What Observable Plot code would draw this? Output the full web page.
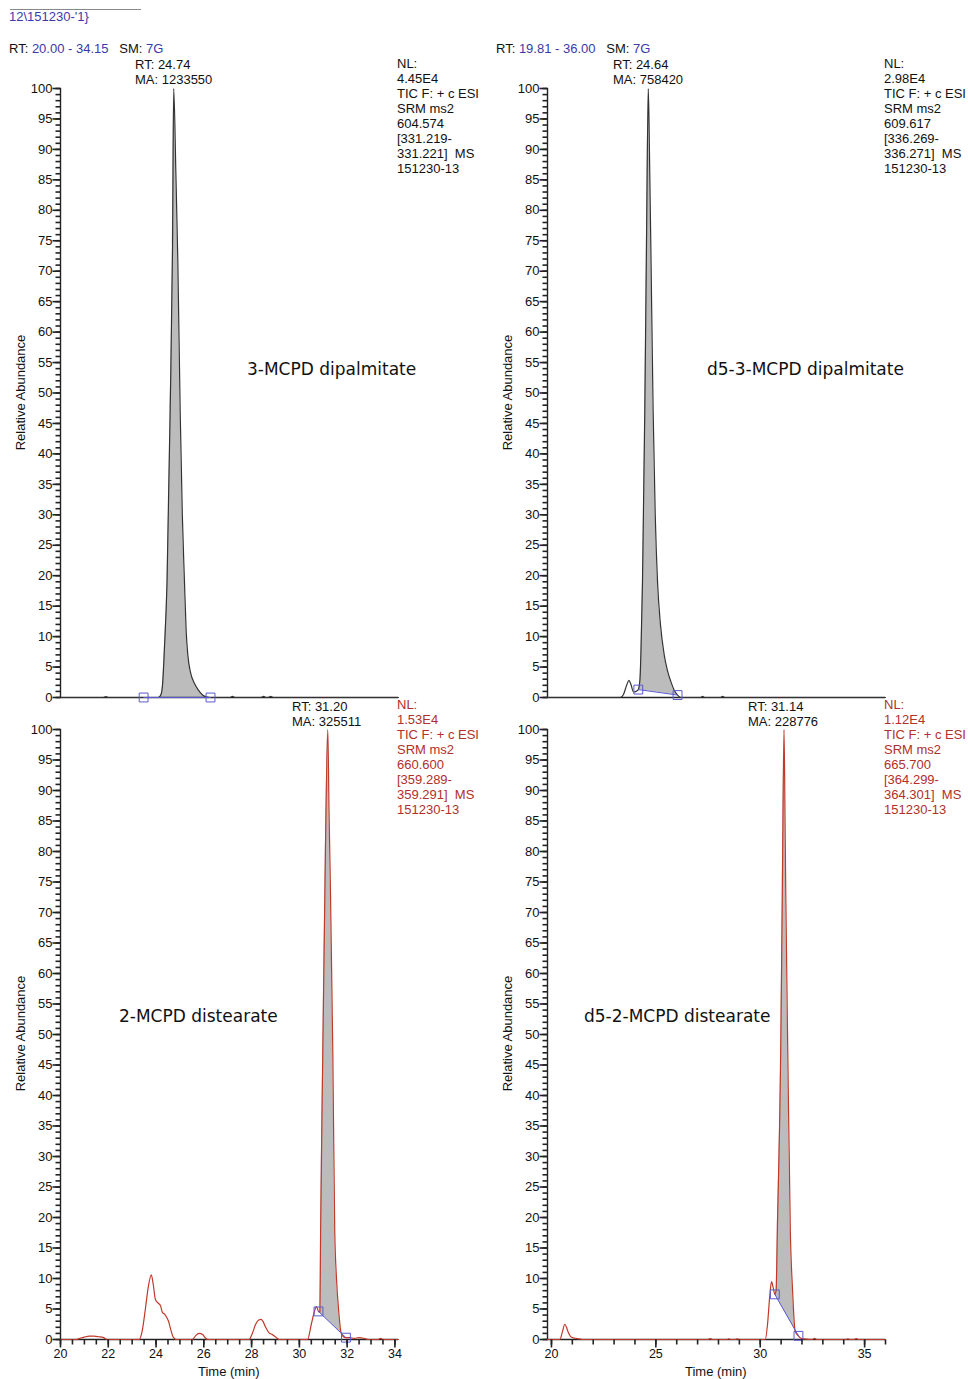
<!DOCTYPE html>
<html>
<head>
<meta charset="utf-8">
<script src="https://cdn.jsdelivr.net/npm/d3@7"></script>
<script src="https://cdn.jsdelivr.net/npm/@observablehq/plot@0.6"></script>
<style>
  html, body { margin: 0; padding: 0; background: #fff; }
  #page { position: relative; width: 968px; height: 1379px; overflow: hidden; font-family: "Liberation Sans", Arial, sans-serif; color: #111; }
  .abs { position: absolute; white-space: pre; }
  .t13 { font-size: 13px; line-height: 15px; }
  .blue { color: #3a3aa8; }
  .red { color: #b0302a; }
  .name { font-family: "DejaVu Sans", Verdana, sans-serif; font-size: 17px; line-height: 20px; color: #111; }
  .ylab { font-size: 13px; transform: rotate(-90deg); transform-origin: center center; }
  .plot { position: absolute; }
</style>
</head>
<body>
<div id="page"></div>
<script>
// ---------- DATA ----------
// Y ticks
const yMajor = [0,5,10,15,20,25,30,35,40,45,50,55,60,65,70,75,80,85,90,95,100];
const yMinor = d3.range(0, 101, 1);
// X ticks
const xMajorLeft = [20,22,24,26,28,30,32,34];
const xMinorLeft = d3.range(20, 34.01, 0.5);
const xMajorRight = [20,25,30,35];
const xMinorRight = d3.range(20, 36.01, 1);

// Panel 1: 3-MCPD dipalmitate
const tl_time  = [20.0,21.8,21.9,22.0,23.48,24.10,24.20,24.27,24.35,24.46,24.59,24.69,24.74,24.83,24.91,25.01,25.10,25.19,25.26,25.33,25.45,25.60,25.76,25.95,26.10,26.28,27.1,27.2,27.3,28.4,28.5,28.6,28.7,28.8,28.9,34.15];
const tl_abund = [0,0,0.15,0,0,0,0.4,2,8,19,47,74,100,86,72,47,30,19,11,7,4,2.4,1.3,0.4,0.1,0,0,0.2,0,0,0.2,0,0,0.2,0,0];
const tl_int = [{t:23.48, a:0}, {t:26.28, a:0}];

// Panel 2: d5-3-MCPD dipalmitate
const tr_time  = [19.81,23.30,23.45,23.60,23.71,23.80,23.93,24.05,24.16,24.24,24.29,24.36,24.47,24.55,24.64,24.70,24.76,24.87,24.97,25.08,25.22,25.40,25.55,25.72,25.88,26.04,26.20,27.15,27.24,27.33,28.10,28.20,28.30,36.0];
const tr_abund = [0,0,0.5,2.0,2.8,2.2,0.9,1.0,1.3,3,8,19,47,74,100,88,74,47,30,19,12,7,4.5,2.6,1.2,0.4,0,0,0.2,0,0,0.2,0,0];
const tr_int = [{t:24.16, a:1.3}, {t:26.04, a:0.4}];

// Panel 3: 2-MCPD distearate
const bl_time  = [20.0,20.67,20.85,21.0,21.2,21.4,21.6,21.8,21.96,23.3,23.42,23.56,23.67,23.80,23.88,23.97,24.08,24.19,24.27,24.35,24.45,24.53,24.61,24.72,24.86,25.52,25.65,25.80,25.95,26.10,26.20,27.89,28.03,28.17,28.30,28.40,28.47,28.59,28.73,28.87,29.01,29.15,30.34,30.50,30.61,30.72,30.80,30.86,30.89,30.98,31.07,31.19,31.24,31.30,31.40,31.48,31.56,31.65,31.73,31.80,31.95,32.10,32.30,32.50,32.70,32.90,33.30,33.40,33.50,34.15];
const bl_abund = [0,0,0.25,0.4,0.55,0.55,0.45,0.3,0,0,1.4,5.2,8.5,10.6,9.1,6.6,6.0,5.5,4.4,4.2,3.6,2.9,1.7,0.4,0,0,0.6,1.0,0.8,0.1,0,0,1.0,2.5,3.2,3.3,3.0,2.0,1.1,0.8,0.4,0,0,2.5,4.3,5.4,4.6,4.5,18,47,74,100,87,74,47,18,9.6,4.5,1.4,0.6,0.3,0.3,0.2,0.3,0.2,0,0,0.2,0,0];
const bl_int = [{t:30.80, a:4.6}, {t:31.95, a:0.3}];

// Panel 4: d5-2-MCPD distearate
const br_time  = [19.81,20.40,20.52,20.64,20.72,20.78,20.86,20.94,21.15,21.40,21.50,27.5,27.6,27.7,28.4,28.5,28.6,28.8,28.9,29.0,30.24,30.35,30.45,30.54,30.62,30.70,30.76,30.82,30.98,31.06,31.14,31.18,31.22,31.32,31.44,31.55,31.67,31.83,31.95,32.10,32.50,32.60,32.70,34.10,34.20,34.30,34.50,34.60,34.70,36.0];
const br_abund = [0,0,1.2,2.5,2.0,1.4,0.8,0.4,0.2,0.05,0,0,0.15,0,0,0.1,0,0,0.1,0,0,2.5,6.9,9.5,8.5,7.4,8,18,47,74,100,88,74,47,18,8,1.4,0.6,0.2,0.1,0,0.2,0,0,0.1,0,0,0.15,0,0];
const br_int = [{t:30.70, a:7.4}, {t:31.83, a:0.6}];

// Text annotations
const headerId = "12\\151230-'1}";
const tl_range = ["20.00 - 34.15", "7G"];
const tr_range = ["19.81 - 36.00", "7G"];
const tl_peak = ["RT: 24.74", "MA: 1233550"];
const tr_peak = ["RT: 24.64", "MA: 758420"];
const bl_peak = ["RT: 31.20", "MA: 325511"];
const br_peak = ["RT: 31.14", "MA: 228776"];
const tl_nl = ["NL:", "4.45E4", "TIC F: + c ESI", "SRM ms2", "604.574", "[331.219-", "331.221]  MS", "151230-13"];
const tr_nl = ["NL:", "2.98E4", "TIC F: + c ESI", "SRM ms2", "609.617", "[336.269-", "336.271]  MS", "151230-13"];
const bl_nl = ["NL:", "1.53E4", "TIC F: + c ESI", "SRM ms2", "660.600", "[359.289-", "359.291]  MS", "151230-13"];
const br_nl = ["NL:", "1.12E4", "TIC F: + c ESI", "SRM ms2", "665.700", "[364.299-", "364.301]  MS", "151230-13"];
const names = ["3-MCPD dipalmitate", "d5-3-MCPD dipalmitate", "2-MCPD distearate", "d5-2-MCPD distearate"];
const yLabel = "Relative Abundance";
const xLabel = "Time (min)";

// ---------- DRAWING ----------
const page = document.getElementById("page");
const BLUE_LINE = "#5a5ad0";
const FILL = "#bcbcbc";
const AXIS = "#222";

// short tick glyphs used as dot symbols
const tickLeft = len => ({draw(ctx) { ctx.moveTo(-len, 0); ctx.lineTo(0, 0); }});
const tickDown = len => ({draw(ctx) { ctx.moveTo(0, 0); ctx.lineTo(0, len); }});

function panel(o) {
  const x0 = o.xDomain[0];
  const data = o.time.map((t, i) => ({t, a: o.abund[i]}));
  const [s, e] = o.int;
  const base = t => s.a + (e.a - s.a) * (t - s.t) / (e.t - s.t);
  const fillData = data.filter(d => d.t >= s.t && d.t <= e.t).map(d => ({t: d.t, a: d.a, b: base(d.t)}));
  const marks = [
    Plot.areaY(fillData, {x: "t", y1: "b", y2: "a", fill: FILL, curve: "monotone-x"}),
    Plot.dot(yMinor, {y: d => d, x: x0, symbol: tickLeft(5), fill: "none", stroke: AXIS, strokeWidth: 1.6}),
    Plot.dot(yMajor, {y: d => d, x: x0, symbol: tickLeft(8), fill: "none", stroke: AXIS, strokeWidth: 1.6}),
    Plot.text(yMajor, {y: d => d, x: x0, text: d => String(d), textAnchor: "end", dx: -8, fontSize: 13, fill: "#111"}),
    Plot.ruleY([0], {stroke: AXIS, strokeWidth: 1.4}),
    Plot.ruleX([x0], {stroke: AXIS, strokeWidth: 1.4}),
    Plot.line(data, {x: "t", y: "a", stroke: o.color, strokeWidth: 1.2, curve: "monotone-x"}),
    Plot.line(o.int, {x: "t", y: "a", stroke: BLUE_LINE, strokeWidth: 1}),
    Plot.dot(o.int, {x: "t", y: "a", symbol: "square", r: 5, stroke: BLUE_LINE, fill: "none", strokeWidth: 1})
  ];
  if (o.xMajor) {
    marks.push(Plot.dot(o.xMinor, {x: d => d, y: 0, symbol: tickDown(5), fill: "none", stroke: AXIS, strokeWidth: 1.6}));
    marks.push(Plot.dot(o.xMajor, {x: d => d, y: 0, symbol: tickDown(8), fill: "none", stroke: AXIS, strokeWidth: 1.6}));
    marks.push(Plot.text(o.xMajor, {x: d => d, y: 0, text: d => String(d), lineAnchor: "top", dy: 10, fontSize: 12.5, fill: "#111"}));
  }
  const svg = Plot.plot({
    width: o.width, height: o.height,
    marginLeft: o.ml, marginRight: o.mr, marginTop: o.mt, marginBottom: o.mb,
    x: {domain: o.xDomain, axis: null},
    y: {domain: [0, 100], axis: null},
    style: {fontFamily: "'Liberation Sans', Arial, sans-serif", fontSize: "12px", color: "#111", background: "transparent", overflow: "visible"},
    marks
  });
  svg.classList.add("plot");
  svg.style.left = o.left + "px";
  svg.style.top = o.top + "px";
  page.appendChild(svg);
}

panel({time: tl_time, abund: tl_abund, int: tl_int, xDomain: [20.0, 34.15], color: "#333",
  width: 484, height: 620, left: 0, top: 80, ml: 60, mr: 86, mt: 8, mb: 3});
panel({time: tr_time, abund: tr_abund, int: tr_int, xDomain: [19.81, 36.0], color: "#333",
  width: 484, height: 620, left: 484, top: 80, ml: 63, mr: 83, mt: 8, mb: 3});
panel({time: bl_time, abund: bl_abund, int: bl_int, xDomain: [20.0, 34.15], color: "#c0392b",
  xMajor: xMajorLeft, xMinor: xMinorLeft,
  width: 484, height: 658, left: 0, top: 720, ml: 60, mr: 86, mt: 9, mb: 39});
panel({time: br_time, abund: br_abund, int: br_int, xDomain: [19.81, 36.0], color: "#c0392b",
  xMajor: xMajorRight, xMinor: xMinorRight,
  width: 484, height: 658, left: 484, top: 720, ml: 63, mr: 83, mt: 9, mb: 39});

function addText(html, x, yCenter, cls, lh = 15) {
  const d = document.createElement("div");
  d.className = "abs " + cls;
  d.style.left = x + "px";
  d.style.top = (yCenter - lh / 2) + "px";
  d.innerHTML = html;
  page.appendChild(d);
  return d;
}
function addLines(lines, x, yCenter, cls) {
  lines.forEach((l, i) => addText(l, x, yCenter + i * 15, "t13 " + cls));
}

// header
const hl = document.createElement("div");
hl.className = "abs";
hl.style.cssText = "left:10px;top:9px;width:131px;height:0;border-top:1.5px solid #888;";
page.appendChild(hl);
addText(headerId, 9, 16, "t13 blue");

addText(`RT: <span class="blue">${tl_range[0]}</span>   SM: <span class="blue">${tl_range[1]}</span>`, 9, 48, "t13");
addText(`RT: <span class="blue">${tr_range[0]}</span>   SM: <span class="blue">${tr_range[1]}</span>`, 496, 48, "t13");

addLines(tl_peak, 135, 64, "");
addLines(tr_peak, 613, 64, "");
addLines(bl_peak, 292, 706, "");
addLines(br_peak, 748, 706, "");

addLines(tl_nl, 397, 63, "");
addLines(tr_nl, 884, 63, "");
addLines(bl_nl, 397, 704, "red");
addLines(br_nl, 884, 704, "red");

addText(names[0], 247, 369, "name", 20);
addText(names[1], 707, 369, "name", 20);
addText(names[2], 119, 1016, "name", 20);
addText(names[3], 584, 1016, "name", 20);

// y labels (rotated)
function yLab(cx, cy) {
  const d = document.createElement("div");
  d.className = "abs ylab";
  d.textContent = yLabel;
  page.appendChild(d);
  const w = d.offsetWidth, h = d.offsetHeight;
  d.style.left = (cx - w / 2) + "px";
  d.style.top = (cy - h / 2) + "px";
}
yLab(21, 392);
yLab(508, 392);
yLab(21, 1033);
yLab(508, 1033);

function xLab(cx, cy) {
  const d = document.createElement("div");
  d.className = "abs t13";
  d.textContent = xLabel;
  page.appendChild(d);
  d.style.left = (cx - d.offsetWidth / 2) + "px";
  d.style.top = (cy - 7.5) + "px";
}
xLab(229, 1371);
xLab(716, 1371);
</script>
</body>
</html>
